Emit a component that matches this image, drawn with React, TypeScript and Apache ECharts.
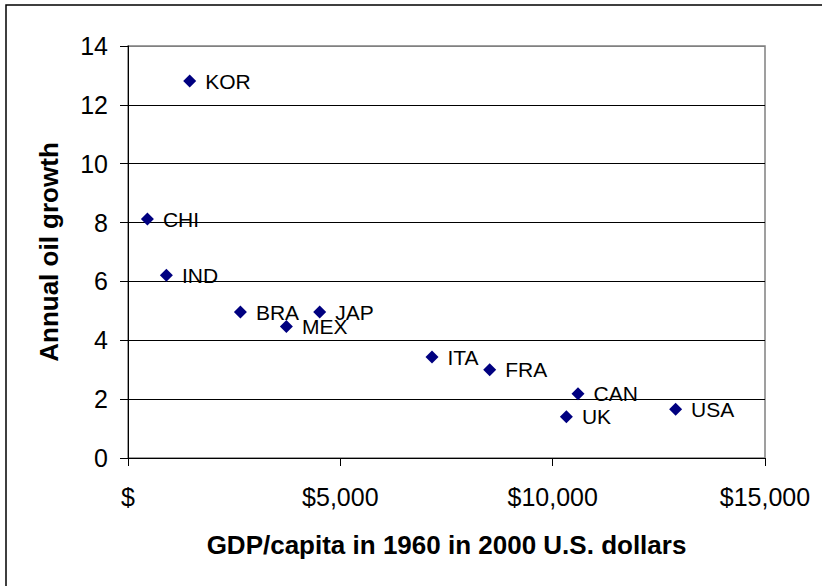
import React, { useEffect, useRef } from "react";
import * as echarts from "echarts";

const countries = ["KOR", "CHI", "IND", "BRA", "MEX", "JAP", "ITA", "FRA", "CAN", "UK", "USA"];
const gdpPerCapita = [1452, 457, 904, 2647, 3730, 4514, 7159, 8517, 10597, 10323, 12895];
const oilGrowth = [12.81, 8.12, 6.21, 4.96, 4.47, 4.96, 3.43, 3.0, 2.18, 1.4, 1.66];
const xTicks = [0, 5000, 10000, 15000];
const yTicks = [0, 2, 4, 6, 8, 10, 12, 14];

const FONT = "'Liberation Sans', Arial, sans-serif";

export default function App() {
  const ref = useRef<HTMLDivElement>(null);
  useEffect(() => {
    if (!ref.current) return;
    const chart = echarts.init(ref.current, null, { renderer: "svg" });
    const data = countries.map((c, i) => ({ name: c, value: [gdpPerCapita[i], oilGrowth[i]] }));
    const fmtX = (v: number) => (v === 0 ? "$" : "$" + v.toLocaleString("en-US"));
    chart.setOption({
      animation: false,
      backgroundColor: "#fff",
      textStyle: { fontFamily: FONT },
      graphic: [
        {
          type: "rect",
          shape: { x: 6, y: 5, width: 900, height: 700 },
          style: { fill: "none", stroke: "#000", lineWidth: 1.5 },
          silent: true,
          z: -1,
        },
      ],
      grid: {
        left: 128,
        right: 57,
        top: 46,
        bottom: 128,
        show: true,
        borderColor: "#808080",
        borderWidth: 1.5,
        containLabel: false,
        outerBoundsMode: "none",
      },
      xAxis: {
        type: "value",
        min: xTicks[0],
        max: xTicks[xTicks.length - 1],
        interval: xTicks[1] - xTicks[0],
        name: "GDP/capita in 1960 in 2000 U.S. dollars",
        nameLocation: "middle",
        nameGap: 74,
        nameTextStyle: { fontFamily: FONT, fontSize: 26, fontWeight: "bold", color: "#000" },
        axisLine: { show: true, onZero: false, lineStyle: { color: "#000", width: 1 } },
        axisTick: { show: true, inside: false, length: 8, lineStyle: { color: "#000" } },
        axisLabel: { fontFamily: FONT, fontSize: 25, color: "#000", margin: 26, formatter: fmtX },
        splitLine: { show: false },
      },
      yAxis: {
        type: "value",
        min: yTicks[0],
        max: yTicks[yTicks.length - 1],
        interval: yTicks[1] - yTicks[0],
        name: "Annual oil growth",
        nameLocation: "middle",
        nameGap: 66,
        nameRotate: 90,
        nameTextStyle: { fontFamily: FONT, fontSize: 26, fontWeight: "bold", color: "#000" },
        axisLine: { show: true, onZero: false, lineStyle: { color: "#000", width: 1 } },
        axisTick: { show: true, inside: false, length: 8, lineStyle: { color: "#000" } },
        axisLabel: { fontFamily: FONT, fontSize: 25, color: "#000", margin: 20 },
        splitLine: {
          show: true,
          lineStyle: { color: ["#000", "#000", "#000", "#000", "#000", "#000", "#000", "#808080"], width: 1 },
        },
      },
      series: [
        {
          type: "scatter",
          symbol: "diamond",
          symbolSize: 13,
          itemStyle: { color: "#000080", opacity: 1 },
          data,
          label: {
            show: true,
            position: "right",
            distance: 9,
            formatter: (p: any) => p.name,
            fontFamily: FONT,
            fontSize: 21,
            color: "#000",
            opacity: 1,
          },
        },
      ],
    });
    return () => chart.dispose();
  }, []);
  return (
    <div
      ref={ref}
      style={{ position: "fixed", left: 0, top: 0, width: 822, height: 586, background: "#fff" }}
    />
  );
}
